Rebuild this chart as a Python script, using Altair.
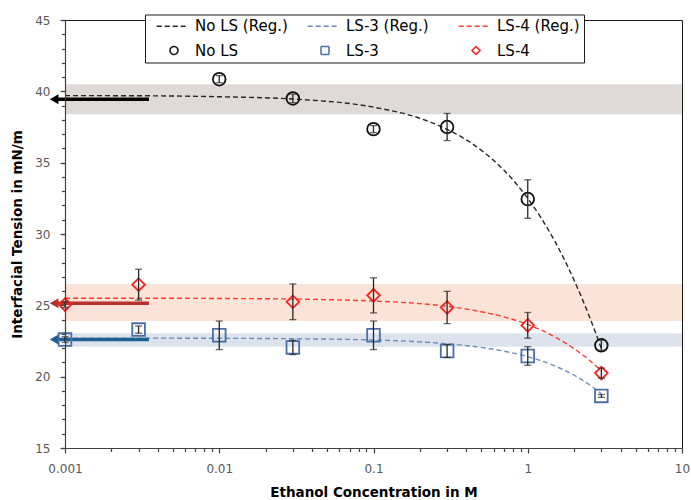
import altair as alt
import pandas as pd

# ---------------- data ----------------
nols_x = [0.01, 0.03, 0.1, 0.3, 1, 3]
nols_y = [40.85, 39.5, 37.35, 37.5, 32.45, 22.2]
nols_err = [0.25, 0.3, 0.25, 0.95, 1.35, 0.35]

ls3_x = [0.001, 0.003, 0.01, 0.03, 0.1, 0.3, 1, 3]
ls3_y = [22.6, 23.3, 22.9, 22.05, 22.9, 21.8, 21.45, 18.65]
ls3_err = [0.2, 0.25, 1.0, 0.5, 1.0, 0.45, 0.65, 0.1]

ls4_x = [0.001, 0.003, 0.03, 0.1, 0.3, 1, 3]
ls4_y = [25.05, 26.45, 25.25, 25.7, 24.85, 23.6, 20.25]
ls4_err = [0.2, 1.08, 1.25, 1.23, 1.13, 0.9, 0.35]

reg_x = [0.001, 0.003, 0.01, 0.03, 0.1, 0.2, 0.3, 0.5, 0.7, 1, 1.5, 2, 2.5, 3]
nols_reg = [39.7, 39.69, 39.62, 39.46, 38.89, 38.11, 37.34, 35.87, 34.48, 32.5, 29.48, 26.75, 24.26, 21.97]
ls3_reg = [22.7, 22.7, 22.69, 22.66, 22.57, 22.44, 22.31, 22.05, 21.79, 21.4, 20.75, 20.1, 19.45, 18.8]
ls4_reg = [25.5, 25.5, 25.48, 25.44, 25.3, 25.12, 24.93, 24.55, 24.19, 23.65, 22.79, 21.96, 21.17, 20.41]

band_lo = [38.4, 23.9, 22.1]
band_hi = [40.5, 26.5, 23.05]
band_colors = ["#DFDAD7", "#FCE3D7", "#DCE3ED"]

arrow_y = [39.45, 25.15, 22.6]
arrow_colors = ["#000000", "#B8312A", "#1F5F8F"]
arrow_tail = 0.0035
arrow_head = 0.00085

# legend is filled column by column: (Reg.) above its markers
labels = ["No LS (Reg.)", "No LS", "LS-3 (Reg.)", "LS-3", "LS-4 (Reg.)", "LS-4"]
colors = ["#262626", "#111111", "#6F8CC0", "#4A6FA5", "#FF3B2F", "#FF1F1F"]
DASH = "M-4.33,0H3.18"
shapes = [DASH, "circle", DASH, "square", DASH, "diamond"]
dashes = [[5, 3], [1, 0], [5, 3], [1, 0], [5, 3], [1, 0]]

x_major = [0.001, 0.01, 0.1, 1, 10]
x_minor = [0.002, 0.003, 0.004, 0.005, 0.006, 0.007, 0.008, 0.009,
           0.02, 0.03, 0.04, 0.05, 0.06, 0.07, 0.08, 0.09,
           0.2, 0.3, 0.4, 0.5, 0.6, 0.7, 0.8, 0.9,
           2, 3, 4, 5, 6, 7, 8, 9]
y_major = [15, 20, 25, 30, 35, 40, 45]
y_minor = list(range(15, 46))
x_domain = [0.001, 10]
y_domain = [15, 45]

# ---------------- frames ----------------
pts = pd.concat([
    pd.DataFrame({"x": nols_x, "y": nols_y, "err": nols_err, "label": "No LS"}),
    pd.DataFrame({"x": ls3_x, "y": ls3_y, "err": ls3_err, "label": "LS-3"}),
    pd.DataFrame({"x": ls4_x, "y": ls4_y, "err": ls4_err, "label": "LS-4"}),
], ignore_index=True)
pts["lo"] = pts["y"] - pts["err"]
pts["hi"] = pts["y"] + pts["err"]
caps = pd.concat([
    pts[["x", "lo"]].rename(columns={"lo": "v"}),
    pts[["x", "hi"]].rename(columns={"hi": "v"}),
], ignore_index=True)

reg = pd.concat([
    pd.DataFrame({"x": reg_x, "y": nols_reg, "label": "No LS (Reg.)"}),
    pd.DataFrame({"x": reg_x, "y": ls3_reg, "label": "LS-3 (Reg.)"}),
    pd.DataFrame({"x": reg_x, "y": ls4_reg, "label": "LS-4 (Reg.)"}),
], ignore_index=True)

bands = pd.DataFrame({"xs": x_domain[0], "xe": x_domain[1], "lo": band_lo,
                      "hi": band_hi, "c": band_colors})
arrows = pd.DataFrame({"xt": arrow_tail, "xh": arrow_head, "y": arrow_y, "c": arrow_colors})
frame = pd.DataFrame({"x": x_domain, "y": y_domain})

# ---------------- scales / axes ----------------
FONT = "DejaVu Sans"
XS = alt.Scale(type="log", domain=x_domain)
YS = alt.Scale(domain=y_domain)
XAX = alt.Axis(values=x_major, format="~g", tickSize=5, labelPadding=10, labelFlush=False,
               title="Ethanol Concentration in M", titlePadding=11, grid=False, zindex=1)
YAX = alt.Axis(values=y_major, tickSize=5, labelPadding=10, labelFlush=False,
               title="Interfacial Tension in mN/m", titlePadding=10, grid=False, zindex=1)


def X(f):
    return alt.X(f, type="quantitative", scale=XS, axis=XAX)


def Y(f):
    return alt.Y(f, type="quantitative", scale=YS, axis=YAX)


leg = alt.Legend(title=" ", titleOrient="left", titleFontSize=1, titlePadding=17.5,
                 orient="none", legendX=80, legendY=-5.5, columns=3,
                 gridAlign="all", columnPadding=16, rowPadding=8.5, padding=4,
                 fillColor="white", strokeColor="#1a1a1a", labelFont=FONT,
                 labelFontSize=15, labelColor="black", symbolSize=64,
                 symbolStrokeWidth=1.5, labelOffset=13.5, cornerRadius=0)

color_enc = alt.Color("label:N", scale=alt.Scale(domain=labels, range=colors), legend=leg)
shape_enc = alt.Shape("label:N", scale=alt.Scale(domain=labels, range=shapes), legend=leg)
dash_enc = alt.StrokeDash("label:N", scale=alt.Scale(domain=labels, range=dashes), legend=leg)

band_layer = alt.Chart(bands).mark_rect().encode(
    x=X("xs"), x2="xe", y=Y("lo"), y2="hi", fill=alt.Fill("c:N", scale=None))

line_layer = alt.Chart(reg).mark_line(strokeWidth=1.4, interpolate="monotone").encode(
    x=X("x"), y=Y("y"), color=color_enc, strokeDash=dash_enc, detail="label:N")

shaft_layer = alt.Chart(arrows).mark_rule(strokeWidth=3.5, clip=False).encode(
    x=X("xt"), x2="xh", y=Y("y"), stroke=alt.Stroke("c:N", scale=None))

head_layer = alt.Chart(arrows).mark_point(shape="triangle-left", filled=True, size=100,
                                          opacity=1, strokeWidth=0, clip=False).encode(
    x=X("xh"), y=Y("y"), fill=alt.Fill("c:N", scale=None))

point_layer = alt.Chart(pts).mark_point(filled=False, size=160, strokeWidth=1.8, opacity=1).encode(
    x=X("x"), y=Y("y"), color=color_enc, shape=shape_enc)

err_layer = alt.Chart(pts).mark_rule(color="#262626", strokeWidth=1.3).encode(
    x=X("x"), y=Y("lo"), y2="hi")

cap_layer = alt.Chart(caps).mark_tick(color="#262626", orient="horizontal", size=7,
                                      thickness=1.3).encode(x=X("x"), y=Y("v"))

main = alt.layer(band_layer, line_layer, shaft_layer, head_layer, point_layer,
                 err_layer, cap_layer)

minor = alt.Chart(frame).mark_point(opacity=0).encode(
    x=alt.X("x:Q", scale=alt.Scale(type="log", domain=x_domain),
            axis=alt.Axis(values=x_minor, labels=False, tickSize=3.5, domain=False,
                          title=None, grid=False, orient="bottom", zindex=1)),
    y=alt.Y("y:Q", scale=alt.Scale(domain=y_domain),
            axis=alt.Axis(values=y_minor, labels=False, tickSize=3.5, domain=False,
                          title=None, grid=False, orient="left", zindex=1)))

chart = alt.layer(main, minor).resolve_scale(x="independent", y="independent").properties(
    width=617, height=428,
    padding={"left": 65, "top": 20, "right": 9, "bottom": 52},
    autosize=alt.AutoSizeParams(type="none"),
    background="white",
).configure_view(stroke="#1a1a1a", strokeWidth=1).configure_axis(
    labelFont=FONT, labelFontSize=12, labelColor="#595959",
    titleFont=FONT, titleFontSize=13.5, titleFontWeight="bold", titleColor="black",
    domainColor="#404040", tickColor="#404040", domainWidth=1.2, tickWidth=1.2,
)

chart.save("out.html", embed_options={"renderer": "svg", "actions": False})
